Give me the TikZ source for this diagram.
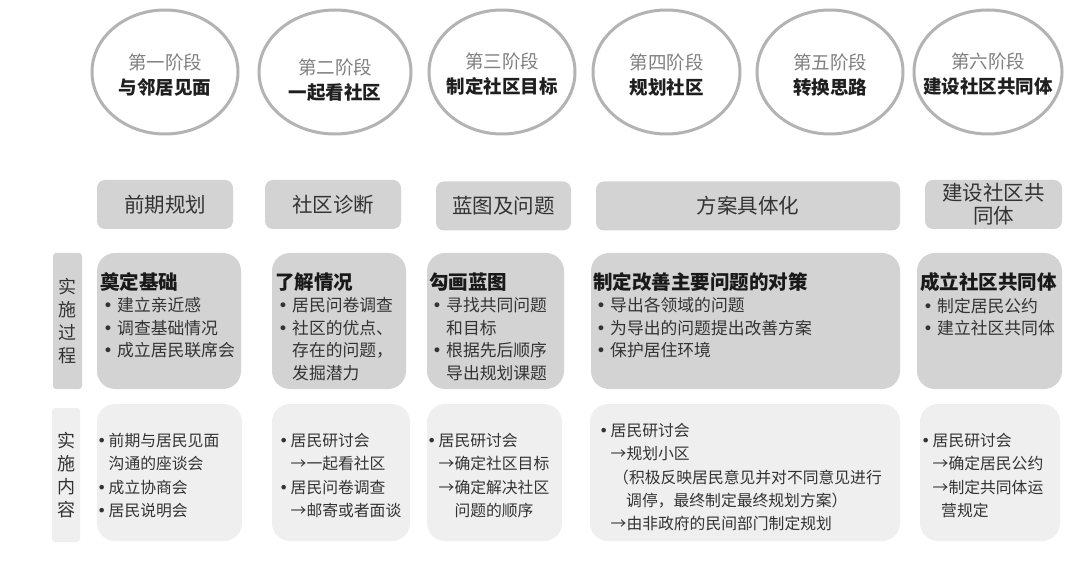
\documentclass[tikz,border=0pt]{standalone}
\usepackage{fontspec}
\setmainfont{Noto Sans CJK SC}
\newfontfamily\symf{DejaVu Sans}
\usetikzlibrary{shapes.geometric}
\definecolor{ringc}{HTML}{B3B3B3}
\definecolor{boxc}{HTML}{D3D3D3}
\definecolor{lightc}{HTML}{EFEFEF}
\definecolor{txtc}{HTML}{333333}
\definecolor{stgc}{HTML}{808080}
\newcommand\rbul{\hspace*{3bp}\makebox[14bp][l]{\symf •}}
\newcommand\rind{\hspace*{17bp}}
\newcommand\cbul{\makebox[9.5bp][l]{\hspace*{-2bp}\symf •}}
\newcommand\carr{\hspace*{9.5bp}→}
\begin{document}
\begin{tikzpicture}[x=1bp,y=-1bp,
  stage/.style={ellipse,draw=ringc,line width=3bp,fill=white,inner sep=0pt},
  stagetxt/.style={align=center,inner sep=0pt,font=\fontsize{18.5bp}{25bp}\selectfont},
  hdr/.style={rectangle,rounded corners=8bp,fill=boxc,inner sep=0pt,text=txtc,align=center,font=\fontsize{20.5bp}{23bp}\selectfont},
  procbox/.style={rectangle,rounded corners=18bp,fill=boxc,inner sep=0pt},
  contbox/.style={rectangle,rounded corners=18bp,fill=lightc,inner sep=0pt},
  sidelab/.style={rectangle,rounded corners=3bp,inner sep=0pt,text=txtc,align=center,font=\fontsize{18bp}{23bp}\selectfont},
  proctxt/.style={anchor=north west,inner sep=0pt,align=left,text=txtc,font=\fontsize{16.8bp}{22.5bp}\selectfont},
  conttxt/.style={anchor=north west,inner sep=0pt,align=left,text=txtc,font=\fontsize{15.8bp}{23.3bp}\selectfont}
]
\fill[white] (0,0) rectangle (1080,568);
\useasboundingbox (0,0) rectangle (1080,568);
\newcommand\ttl[1]{{\fontsize{19.5bp}{22.5bp}\selectfont\bfseries\color{black!90}#1}}
\newcommand\stg[2]{{\color{stgc}#1}\\{\bfseries\color{black!88}#2}}

% stage ellipses
\node[stage,minimum width=146bp,minimum height=124bp] (e1) at (165,72) {};
\node[stage,minimum width=152bp,minimum height=124bp] (e2) at (335,72) {};
\node[stage,minimum width=146bp,minimum height=124bp] (e3) at (502,72) {};
\node[stage,minimum width=147bp,minimum height=124bp] (e4) at (666.5,72) {};
\node[stage,minimum width=146bp,minimum height=124bp] (e5) at (830,72) {};
\node[stage,minimum width=148bp,minimum height=124bp] (e6) at (988,72) {};
\node[stagetxt] (e1t) at (165,75.5) {\stg{第一阶段}{与邻居见面}};
\node[stagetxt] (e2t) at (335,80.5) {\stg{第二阶段}{一起看社区}};
\node[stagetxt] (e3t) at (502,74.5) {\stg{第三阶段}{制定社区目标}};
\node[stagetxt] (e4t) at (666.5,75.5) {\stg{第四阶段}{规划社区}};
\node[stagetxt] (e5t) at (830,75.5) {\stg{第五阶段}{转换思路}};
\node[stagetxt] (e6t) at (988,74.5) {\stg{第六阶段}{建设社区共同体}};

% header boxes
\node[hdr,minimum width=136bp,minimum height=49bp] (h1) at (165,204.5) {前期规划};
\node[hdr,minimum width=136bp,minimum height=49bp] (h2) at (333,204.5) {社区诊断};
\node[hdr,minimum width=135bp,minimum height=49bp] (h3) at (503.5,206) {蓝图及问题};
\node[hdr,minimum width=304bp,minimum height=49bp] (h4) at (748,206) {方案具体化};
\node[hdr,minimum width=137bp,minimum height=49bp] (h5) at (993.5,204.5) {建设社区共\\同体};

% row 3: process
\node[sidelab,fill=boxc,minimum width=29bp,minimum height=136bp] (l1) at (67.5,321) {实\\施\\过\\程};
\node[procbox,minimum width=144bp,minimum height=136bp] (b1) at (169,321) {};
\node[procbox,minimum width=134bp,minimum height=136bp] (b2) at (339,321) {};
\node[procbox,minimum width=137bp,minimum height=136bp] (b3) at (495.5,321) {};
\node[procbox,minimum width=309bp,minimum height=136bp] (b4) at (745.5,321) {};
\node[procbox,minimum width=145bp,minimum height=136bp] (b5) at (989.5,321) {};
\node[proctxt] (b1t) at (100,272.3) {\ttl{奠定基础}\\\rbul 建立亲近感\\\rbul 调查基础情况\\\rbul 成立居民联席会};
\node[proctxt] (b2t) at (275,272.3) {\ttl{了解情况}\\\rbul 居民问卷调查\\\rbul 社区的优点、\\\rind 存在的问题，\\\rind 发掘潜力};
\node[proctxt] (b3t) at (429,272.3) {\ttl{勾画蓝图}\\\rbul 寻找共同问题\\\rind 和目标\\\rbul 根据先后顺序\\\rind 导出规划课题};
\node[proctxt] (b4t) at (593,272.3) {\ttl{制定改善主要问题的对策}\\\rbul 导出各领域的问题\\\rbul 为导出的问题提出改善方案\\\rbul 保护居住环境};
\node[proctxt] (b5t) at (920,272.3) {\ttl{成立社区共同体}\\\rbul 制定居民公约\\\rbul 建立社区共同体};

% row 4: content
\node[sidelab,fill=lightc,minimum width=28bp,minimum height=134bp] (l2) at (66,475) {实\\施\\内\\容};
\node[contbox,minimum width=145bp,minimum height=137bp] (c1) at (169.5,472.5) {};
\node[contbox,minimum width=138bp,minimum height=137bp] (c2) at (341,472.5) {};
\node[contbox,minimum width=135bp,minimum height=137bp] (c3) at (494.5,472.5) {};
\node[contbox,minimum width=310bp,minimum height=137bp] (c4) at (745,472.5) {};
\node[contbox,minimum width=140bp,minimum height=137bp] (c5) at (990,472.5) {};
\node[conttxt] (c1t) at (99,433) {\cbul 前期与居民见面\\\hspace*{9.5bp}沟通的座谈会\\\cbul 成立协商会\\\cbul 居民说明会};
\node[conttxt] (c2t) at (281,433) {\cbul 居民研讨会\\\carr 一起看社区\\\cbul 居民问卷调查\\\carr 邮寄或者面谈};
\node[conttxt] (c3t) at (429,433) {\cbul 居民研讨会\\\carr 确定社区目标\\\carr 确定解决社区\\\hspace*{25.3bp}问题的顺序};
\node[conttxt] (c4t) at (601,423) {\cbul 居民研讨会\\\carr 规划小区\\\hspace*{12bp}（积极反映居民意见并对不同意见进行\\\hspace*{25bp}调停，最终制定最终规划方案）\\\carr 由非政府的民间部门制定规划};
\node[conttxt] (c5t) at (923,433) {\cbul 居民研讨会\\\carr 确定居民公约\\\carr 制定共同体运\\\hspace*{18bp}营规定};
\end{tikzpicture}
\end{document}
